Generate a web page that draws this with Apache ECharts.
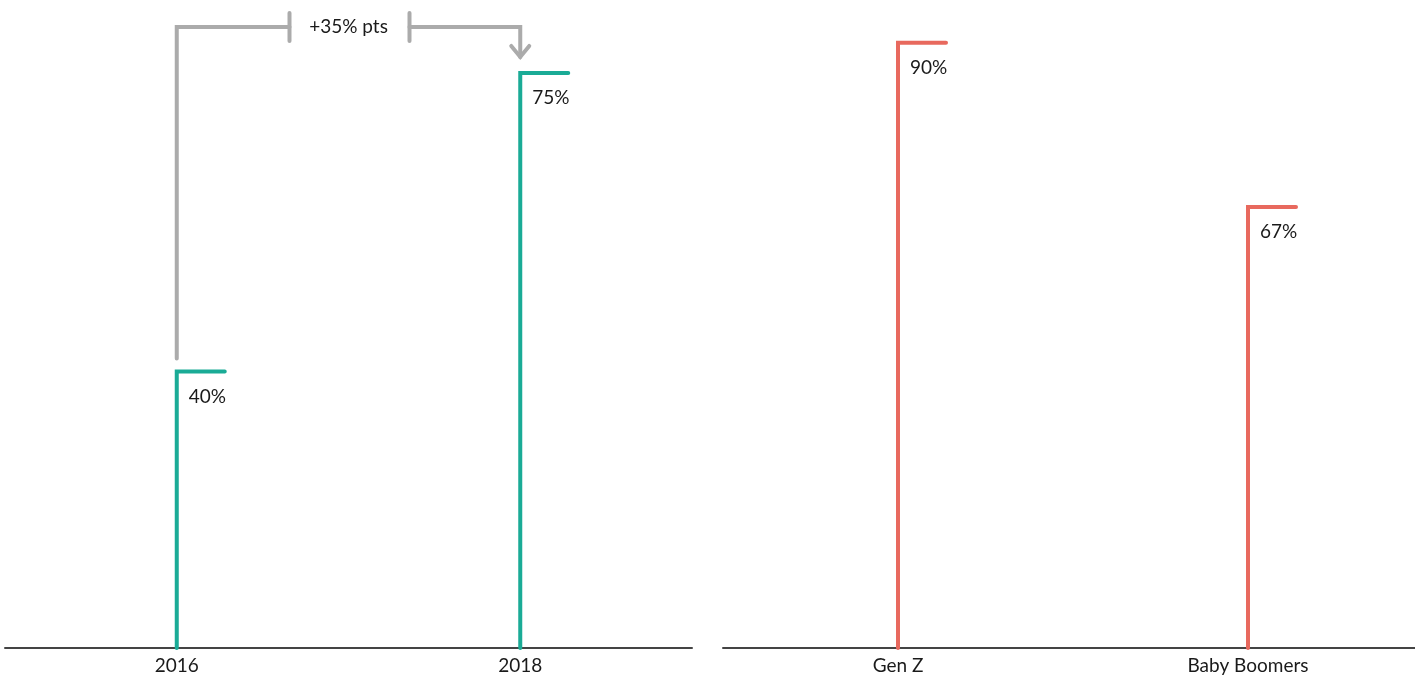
<!DOCTYPE html>
<html>
<head>
<meta charset="utf-8">
<script src="https://cdn.jsdelivr.net/npm/echarts@6/dist/echarts.min.js"></script>
<style>
  html, body { margin: 0; padding: 0; background: #fff; }
  #chart { width: 1415px; height: 675px; }
</style>
</head>
<body>
<div id="chart"></div>
<script>
// left panel: by year
const yearCats = ['2016', '2018'];
const yearValues = [40, 75];
// right panel: by generation
const genCats = ['Gen Z', 'Baby Boomers'];
const genValues = [90, 67];

const teal = '#1aab96';
const coral = '#e8695e';
const grey = '#ababab';
const font = 'Lato, "Noto Sans", sans-serif';

let myChart = echarts.init(document.getElementById('chart'));

// vertical stem + short cap to the right, label under the cap
function stem(color) {
    return function (params, api) {
        let top = api.coord([api.value(0), api.value(1)]);
        let baseY = params.coordSys.y + params.coordSys.height;
        return {
            type: 'group',
            children: [
                {
                    type: 'polyline',
                    shape: { points: [[top[0], baseY], [top[0], top[1]], [top[0] + 48, top[1]]] },
                    style: { stroke: color, lineWidth: 4, fill: null, lineCap: 'round', lineJoin: 'miter' }
                },
                {
                    type: 'text',
                    x: top[0] + 12,
                    y: top[1] + 25,
                    style: {
                        text: api.value(1) + '%',
                        font: '19px ' + font,
                        fill: '#1a1a1a',
                        verticalAlign: 'middle',
                        align: 'left'
                    }
                }
            ]
        };
    };
}

// grey bracket from 2016 to 2018 with the difference
function bracket(params, api) {
    let a = api.coord([api.value(0), api.value(1)]);
    let b = api.coord([api.value(2), api.value(3)]);
    let lvl = params.coordSys.y + 27;
    let mid = (a[0] + b[0]) / 2;
    let tip = b[1] - 16;
    let st = { stroke: grey, lineWidth: 4, fill: null, lineCap: 'round', lineJoin: 'miter' };
    return {
        type: 'group',
        children: [
            { type: 'polyline', shape: { points: [[a[0], a[1] - 13], [a[0], lvl], [mid - 59, lvl]] }, style: st },
            { type: 'line', shape: { x1: mid - 59, y1: lvl - 14, x2: mid - 59, y2: lvl + 14 }, style: st },
            { type: 'line', shape: { x1: mid + 61, y1: lvl - 14, x2: mid + 61, y2: lvl + 14 }, style: st },
            { type: 'polyline', shape: { points: [[mid + 61, lvl], [b[0], lvl], [b[0], tip]] }, style: st },
            { type: 'polyline', shape: { points: [[b[0] - 9, tip - 11], [b[0], tip], [b[0] + 9, tip - 11]] }, style: st },
            {
                type: 'text',
                x: mid,
                y: lvl,
                style: {
                    text: '+' + (api.value(3) - api.value(1)) + '% pts',
                    font: '19px ' + font,
                    fill: '#1a1a1a',
                    align: 'center',
                    verticalAlign: 'middle'
                }
            }
        ]
    };
}

function xAxisFor(cats, idx) {
    return {
        type: 'category',
        gridIndex: idx,
        data: cats,
        boundaryGap: true,
        axisLine: { show: true, lineStyle: { color: '#444', width: 2 } },
        axisTick: { show: false },
        axisLabel: { color: '#1a1a1a', fontSize: 19, fontFamily: font, margin: 8 },
        splitLine: { show: false }
    };
}

let option = {
    backgroundColor: '#fff',
    animation: false,
    grid: [
        { left: 5, width: 687, top: 0, bottom: 27, outerBoundsMode: 'none' },
        { left: 723, width: 700, top: 0, bottom: 27, outerBoundsMode: 'none' }
    ],
    xAxis: [xAxisFor(yearCats, 0), xAxisFor(genCats, 1)],
    yAxis: [
        { type: 'value', gridIndex: 0, min: 7.6, max: 83.55, show: false, splitLine: { show: false } },
        { type: 'value', gridIndex: 1, min: 5.26, max: 95.98, show: false, splitLine: { show: false } }
    ],
    series: [
        {
            type: 'custom',
            xAxisIndex: 0, yAxisIndex: 0,
            renderItem: stem(teal),
            encode: { x: 0, y: 1 },
            data: yearValues.map((v, i) => [i, v])
        },
        {
            type: 'custom',
            xAxisIndex: 0, yAxisIndex: 0,
            renderItem: bracket,
            encode: { x: [0, 2], y: [1, 3] },
            data: [[0, yearValues[0], 1, yearValues[1]]]
        },
        {
            type: 'custom',
            xAxisIndex: 1, yAxisIndex: 1,
            renderItem: stem(coral),
            encode: { x: 0, y: 1 },
            data: genValues.map((v, i) => [i, v])
        }
    ]
};

option && myChart.setOption(option);
</script>
</body>
</html>
